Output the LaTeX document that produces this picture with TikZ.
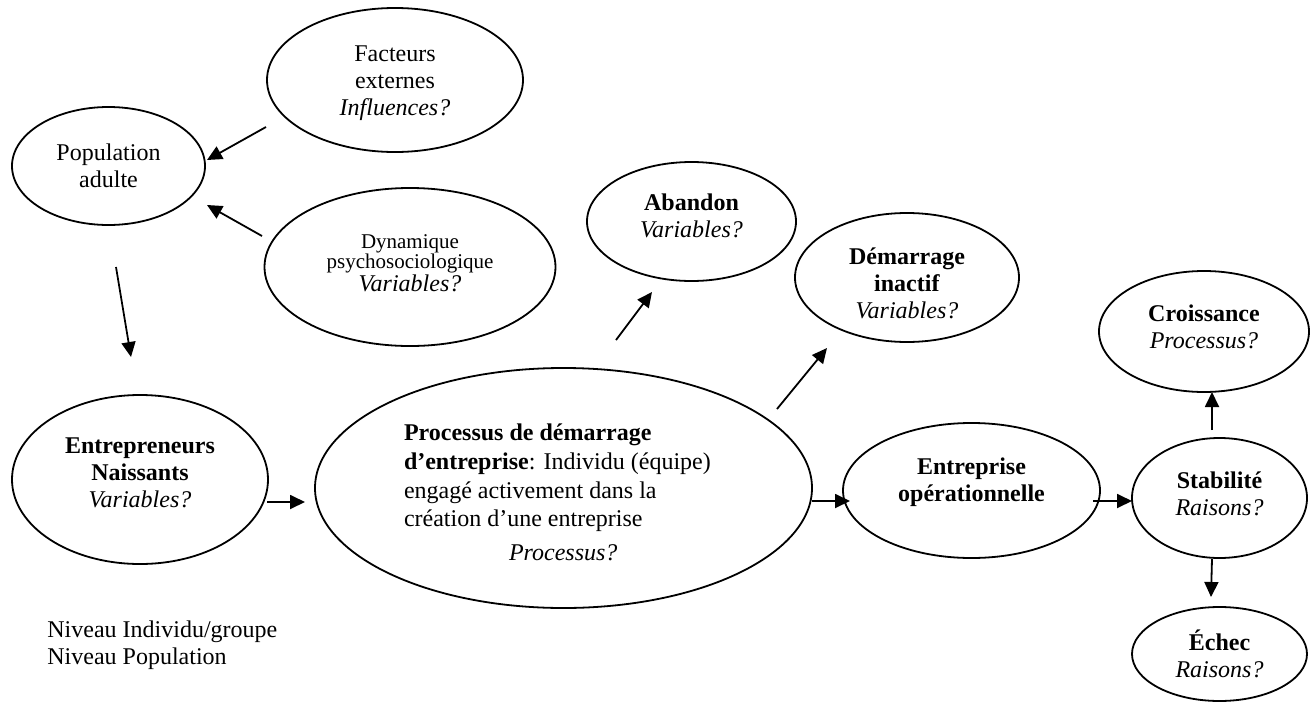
\documentclass[tikz,border=0pt]{standalone}
\usepackage{fontspec}
\setmainfont{Liberation Serif}
\usetikzlibrary{shapes.geometric,arrows.meta}

\begin{document}
\begin{tikzpicture}[x=0.5pt,y=-0.5pt,
    etape/.style ={ellipse, draw, line width=0.9pt, inner sep=0pt, align=center,
                   font=\fontsize{12}{13.5}\selectfont},
    fleche/.style ={-{Triangle[length=7.5pt,width=7pt]}, line width=0.9pt}]
   \useasboundingbox (0,0) rectangle (1313,702);

   \node[etape, minimum width=96.5pt, minimum height=59pt] (pop) at (108.5,166) {Population\\adulte};
   \node[etape, minimum width=128pt, minimum height=72pt] (fact) at (395,80)
      {\rule{0pt}{11pt}Facteurs\\externes\\\textit{Influences?}};
   \node[etape, minimum width=145.5pt, minimum height=79pt,
         font=\fontsize{10.5}{9.8}\selectfont\lineskiplimit-10pt\relax] (dyn) at (410,267)
      {Dynamique\\psychosociologique\\[1.8pt]\fontsize{12}{10}\selectfont\textit{Variables?}\rule[-4pt]{0pt}{0pt}};
   \node[etape, minimum width=128pt, minimum height=84.5pt] (entr) at (140,479.5)
      {\textbf{Entrepreneurs}\\\textbf{Naissants}\\\textit{Variables?}\rule[-7pt]{0pt}{0pt}};
   \node[etape, minimum width=248.5pt, minimum height=120pt, text width=159.5pt, align=flush left,
         font=\fontsize{12}{14.3}\selectfont] (proc) at (563.5,488)
      {\rule{0pt}{13pt}\textbf{Processus de démarrage}\\\textbf{d’entreprise}: Individu (équipe)\\engagé activement dans la\\création d’une entreprise\\[2.7pt]\hspace*{52.5pt}\textit{Processus?}};
   \node[etape, minimum width=104.5pt, minimum height=59.5pt] (aband) at (691.5,221.5)
      {\textbf{Abandon}\\\textit{Variables?}\rule[-6pt]{0pt}{0pt}};
   \node[etape, minimum width=112pt, minimum height=64.5pt] (inact) at (907,277.5)
      {\rule{0pt}{14pt}\textbf{Démarrage}\\\textbf{inactif}\\\textit{Variables?}};
   \node[etape, minimum width=128.5pt, minimum height=67.5pt] (oper) at (971.5,490.5)
      {\textbf{Entreprise}\\\textbf{opérationnelle}\rule[-11pt]{0pt}{0pt}};
   \node[etape, minimum width=105pt, minimum height=60.5pt] (crois) at (1204,331.5)
      {\textbf{Croissance}\\\textit{Processus?}\rule[-5pt]{0pt}{0pt}};
   \node[etape, minimum width=87.5pt, minimum height=60pt] (stab) at (1219.5,498)
      {\textbf{Stabilité}\\\textit{Raisons?}\rule[-4pt]{0pt}{0pt}};
   \node[etape, minimum width=87.5pt, minimum height=47pt] (echec) at (1219.5,654) {\textbf{Échec}\\\textit{Raisons?}};
   \node[anchor=west, align=left, inner sep=0pt, font=\fontsize{12}{13.5}\selectfont] (niveaux) at (47,645)
      {Niveau Individu/groupe\\Niveau Population};

   \draw[fleche] ([shift={(-129,47)}]fact.center) -- ([shift={(98.5,-6)}]pop.center);
   \draw[fleche] ([shift={(-148,-31)}]dyn.center) -- ([shift={(98.5,39)}]pop.center);
   \draw[fleche] ([shift={(7.5,101)}]pop.center) -- ([shift={(-9,-122.5)}]entr.center);
   \draw[fleche] ([shift={(127,22.5)}]entr.center) -- ([shift={(-258.5,14)}]proc.center);
   \draw[fleche] ([shift={(52.5,-148)}]proc.center) -- ([shift={(-39.5,70.5)}]aband.center);
   \draw[fleche] ([shift={(213.5,-79)}]proc.center) -- ([shift={(-80,70.5)}]inact.center);
   \draw[fleche] ([shift={(248.5,13)}]proc.center) -- ([shift={(-121.5,10.5)}]oper.center);
   \draw[fleche] ([shift={(121.5,10.5)}]oper.center) -- ([shift={(-87.5,3)}]stab.center);
   \draw[fleche] ([shift={(-7.5,-68)}]stab.center) -- ([shift={(8,60.5)}]crois.center);
   \draw[fleche] ([shift={(-7.5,61)}]stab.center) -- ([shift={(-8.5,-57)}]echec.center);
 \end{tikzpicture}
\end{document}
